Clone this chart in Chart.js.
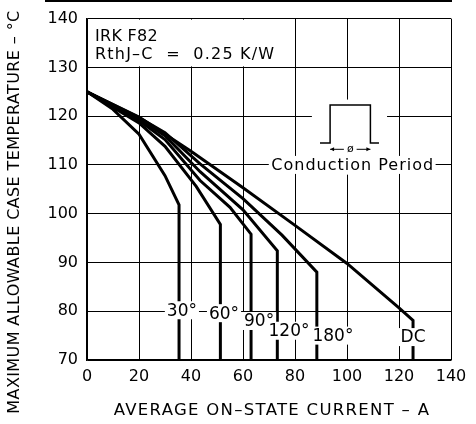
<!DOCTYPE html>
<html><head><meta charset="utf-8">
<script src="https://cdn.jsdelivr.net/npm/chart.js@4/dist/chart.umd.min.js"></script>
<style>html,body{margin:0;padding:0;background:#fff;}#wrap{position:relative;width:476px;height:424px;}</style>
</head><body><div id="wrap"><canvas id="c" width="476" height="424"></canvas></div>
<script>
// ---- data (average on-state current in A, max case temperature in °C) ----
const cur30  = [0, 10, 20, 30, 35.4, 35.4];
const temp30 = [125, 121.4, 116.3, 107.8, 101.8, 70];
const cur60  = [0, 20, 30, 42, 51.3, 51.3];
const temp60 = [125, 118.6, 113.8, 105.6, 97.8, 70];
const cur90  = [0, 20, 30, 43.5, 55, 63.1, 63.1];
const temp90 = [125, 119.1, 115.2, 106.8, 101.3, 95.8, 70];
const cur120  = [0, 20, 30, 43.5, 60, 73.2, 73.2];
const temp120 = [125, 119.4, 116, 108.6, 100.8, 92.4, 70];
const cur180  = [0, 20, 30, 43.5, 60, 75, 88.4, 88.4];
const temp180 = [125, 119.7, 116.6, 110.2, 103.1, 95.6, 88, 70];
const curDC  = [0, 20, 40, 60, 80, 100, 120, 125.4, 125.4];
const tempDC = [125, 119.8, 112.8, 105.3, 97.6, 89.8, 80.7, 78.1, 70];

const seriesNames = ['30°', '60°', '90°', '120°', '180°', 'DC'];
const xTicks = [0, 20, 40, 60, 80, 100, 120, 140];
const yTicks = [70, 80, 90, 100, 110, 120, 130, 140];

const xTitle = 'AVERAGE ON\u2013STATE CURRENT \u2013 A';
const yTitle = 'MAXIMUM ALLOWABLE CASE TEMPERATURE \u2013 °C';
const noteLines = ['IRK F82', 'RthJ\u2013C  =  0.25 K/W'];
const insetLabel = 'Conduction Period';

// label anchors in data units (current, temperature)
const labelAt = [[36.5, 80.2], [52.7, 79.6], [66.2, 78], [77.7, 76], [94.6, 75], [125.4, 74.7]];

const FONT = '"DejaVu Sans", sans-serif';
const pairs = (xs, ys) => xs.map((x, i) => ({x, y: ys[i]}));
const allCur = [cur30, cur60, cur90, cur120, cur180, curDC];
const allTemp = [temp30, temp60, temp90, temp120, temp180, tempDC];

const datasets = seriesNames.map((n, i) => ({
  label: n, data: pairs(allCur[i], allTemp[i]),
  borderColor: '#000', borderWidth: 3, pointRadius: 0, fill: false, tension: 0,
  borderJoinStyle: 'miter'
}));

const deco = {
  id: 'deco',
  afterDatasetsDraw(chart) {
    const {ctx, scales: {x, y}, chartArea: a} = chart;
    const X = v => x.getPixelForValue(v), Y = v => y.getPixelForValue(v);
    ctx.save();
    // top note box
    ctx.fillStyle = '#fff';
    ctx.fillRect(a.left + 1, a.top + 1, X(76.5) - a.left - 1, Y(130) - a.top - 2);
    ctx.fillStyle = '#000';
    ctx.font = '16px ' + FONT;
    ctx.textAlign = 'left'; ctx.textBaseline = 'alphabetic';
    ctx.letterSpacing = '0.3px';
    ctx.fillText(noteLines[0], a.left + 8, a.top + 22);
    ctx.letterSpacing = '1.2px';
    ctx.fillText(noteLines[1], a.left + 8, a.top + 40);
    ctx.letterSpacing = '0px';
    // inset: conduction period pulse
    ctx.fillStyle = '#fff';
    ctx.fillRect(X(86.5), Y(123.4), X(115.4) - X(86.5), Y(108) - Y(123.4));
    ctx.strokeStyle = '#000'; ctx.lineWidth = 1.5;
    ctx.beginPath();
    ctx.moveTo(X(89.6), Y(114.5)); ctx.lineTo(X(93.5), Y(114.5));
    ctx.lineTo(X(93.5), Y(122.3)); ctx.lineTo(X(109), Y(122.3));
    ctx.lineTo(X(109), Y(114.5)); ctx.lineTo(X(112.3), Y(114.5));
    ctx.stroke();
    // dimension arrow
    ctx.lineWidth = 1;
    const ay = Y(113.2);
    ctx.beginPath();
    ctx.moveTo(X(93.5), ay); ctx.lineTo(X(98.8), ay);
    ctx.moveTo(X(103.7), ay); ctx.lineTo(X(109), ay);
    ctx.stroke();
    ctx.beginPath();
    ctx.moveTo(X(93.5), ay); ctx.lineTo(X(93.5) + 4, ay - 2); ctx.lineTo(X(93.5) + 4, ay + 2); ctx.closePath();
    ctx.moveTo(X(109), ay); ctx.lineTo(X(109) - 4, ay - 2); ctx.lineTo(X(109) - 4, ay + 2); ctx.closePath();
    ctx.fillStyle = '#000'; ctx.fill();
    ctx.font = '11px ' + FONT; ctx.textAlign = 'center'; ctx.textBaseline = 'middle';
    ctx.fillText('ø', X(101.25), ay);
    // inset label
    ctx.font = '16px ' + FONT;
    ctx.letterSpacing = '1px';
    const tw = ctx.measureText(insetLabel).width;
    ctx.fillStyle = '#fff';
    ctx.fillRect(X(102) - tw / 2 - 2, Y(110) - 9, tw + 4, 18);
    ctx.fillStyle = '#000';
    ctx.fillText(insetLabel, X(102) + 0.5, Y(110) + 1);
    ctx.letterSpacing = '0px';
    // series labels
    ctx.font = '17px ' + FONT;
    seriesNames.forEach((n, i) => {
      const px = X(labelAt[i][0]), py = Y(labelAt[i][1]);
      const w = ctx.measureText(n).width;
      ctx.fillStyle = '#fff';
      ctx.fillRect(px - w / 2 - 2, py - 9, w + 4, 18);
      ctx.fillStyle = '#000';
      ctx.fillText(n, px, py + 1);
    });
    // axis titles
    ctx.font = '16px ' + FONT; ctx.textAlign = 'center'; ctx.textBaseline = 'middle';
    ctx.letterSpacing = '0.4px';
    ctx.save();
    ctx.translate(15, 212); ctx.rotate(-Math.PI / 2);
    ctx.fillText(yTitle, 0, 0);
    ctx.restore();
    ctx.font = '16.5px ' + FONT;
    ctx.letterSpacing = '1.3px';
    ctx.fillText(xTitle, (a.left + a.right) / 2 + 3, 411);
    ctx.letterSpacing = '0px';
    // top scan rule
    ctx.fillRect(45, 0, 407, 2);
    ctx.restore();
  }
};

new Chart(document.getElementById('c'), {
  type: 'line',
  data: {datasets},
  options: {
    responsive: false, animation: false, devicePixelRatio: 1,
    layout: {padding: {left: 0, top: 15, right: 25, bottom: 0}},
    plugins: {legend: {display: false}, tooltip: {enabled: false}},
    scales: {
      x: {
        type: 'linear', min: 0, max: 140,
        afterBuildTicks: s => { s.ticks = xTicks.map(v => ({value: v})); },
        afterFit: s => { s.height = 64; },
        grid: {color: '#000', lineWidth: 1, drawTicks: false},
        border: {color: '#000', width: 1.5},
        ticks: {color: '#000', font: {family: FONT, size: 16}, padding: 7}
      },
      y: {
        type: 'linear', min: 70, max: 140,
        afterBuildTicks: s => { s.ticks = yTicks.map(v => ({value: v})); },
        afterFit: s => { s.width = 87; },
        grid: {color: '#000', lineWidth: 1, drawTicks: false},
        border: {color: '#000', width: 1.5},
        ticks: {color: '#000', font: {family: FONT, size: 16}, padding: 9}
      }
    }
  },
  plugins: [deco]
});
</script></body></html>
